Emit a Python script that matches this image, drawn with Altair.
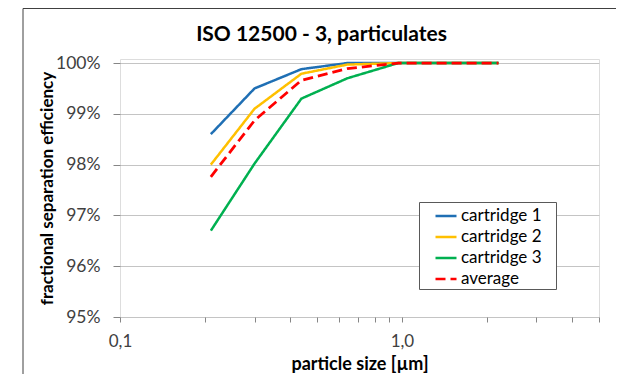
import altair as alt
import pandas as pd

# ---- data ----
sizes = [0.21, 0.3, 0.44, 0.64, 0.97, 2.2]          # particle size [µm]
cartridge_1 = [98.60, 99.50, 99.88, 100.0, 100.0, 100.0]
cartridge_2 = [98.00, 99.10, 99.79, 99.97, 100.0, 100.0]
cartridge_3 = [96.70, 98.02, 99.30, 99.70, 100.0, 100.0]
average = [97.76, 98.87, 99.66, 99.89, 100.0, 100.0]

series_names = ["cartridge 1", "cartridge 2", "cartridge 3", "average"]
series_colors = ["#1f6fb4", "#ffc000", "#00b050", "#ff0000"]
series_dashes = [[1, 0], [1, 0], [1, 0], [10, 5]]

x_tick_values = [0.1, 0.2, 0.3, 0.4, 0.5, 0.6, 0.7, 0.8, 0.9, 1, 2, 3, 4, 5]
y_tick_values = [0.95, 0.96, 0.97, 0.98, 0.99, 1.0]

rows = []
for name, vals in zip(series_names, [cartridge_1, cartridge_2, cartridge_3, average]):
    for i, (s, v) in enumerate(zip(sizes, vals)):
        rows.append({"series": name, "size": s, "eff": v / 100.0, "idx": i})
df = pd.DataFrame(rows)

W, H = 479, 258
FONT = "Lato"

legend = alt.Legend(
    title=None, orient="none", legendX=299, legendY=143,
    fillColor="white", strokeColor="#595959", padding=2,
    symbolType="stroke", symbolSize=441, symbolStrokeWidth=2.5,
    symbolOffset=13, labelOffset=3, labelFont=FONT, labelFontSize=17,
    labelColor="#000000", rowPadding=1,
    labelExpr="datum.label + '\u2800'",
)

color = alt.Color("series:N", scale=alt.Scale(domain=series_names, range=series_colors), legend=legend)
dash = alt.StrokeDash("series:N", scale=alt.Scale(domain=series_names, range=series_dashes), legend=legend)

x_enc = alt.X(
    "size:Q",
    scale=alt.Scale(type="log", domain=[0.1, 5], nice=False),
    axis=alt.Axis(
        values=x_tick_values,
        labelExpr="datum.value == 0.1 ? '0,1' : (datum.value == 1 ? '1,0' : '')",
        title="particle size [µm]", grid=False, domain=False,
        ticks=True, tickSize=5, tickColor="#868686",
        labelFont=FONT, labelFontSize=17, labelColor="#404040", labelPadding=11,
        labelFlush=False, labelOverlap=False,
        titleFont=FONT, titleFontSize=18, titleFontWeight="bold", titleColor="#000000",
        titlePadding=6,
    ),
)
y_enc = alt.Y(
    "eff:Q",
    scale=alt.Scale(domain=[0.95, 1.0008], nice=False, zero=False),
    axis=alt.Axis(
        values=y_tick_values, format=".0%",
        title="fractional separation efficiency", grid=True, gridColor="#c4c4c4",
        domain=False, ticks=True, tickSize=7, tickColor="#868686",
        labelFont=FONT, labelFontSize=17.5, labelColor="#404040", labelPadding=13,
        titleFont=FONT, titleFontSize=17, titleFontWeight="bold", titleColor="#000000",
        titlePadding=-1,
    ),
)

base = alt.Chart(df)
cartridges = base.transform_filter("datum.series != 'average'").mark_line(strokeWidth=2.5).encode(
    x=x_enc, y=y_enc, color=color, strokeDash=dash, order="idx:Q"
)
avg_line = base.transform_filter("datum.series == 'average'").mark_line(strokeWidth=2.8).encode(
    x=x_enc, y=y_enc, color=color, strokeDash=dash, order="idx:Q"
)

frame = alt.Chart(pd.DataFrame({"a": [0]})).mark_rect(
    filled=False, stroke="#404040", strokeWidth=1
).encode(
    x=alt.value(-97), x2=alt.value(W + 20), y=alt.value(-50.5), y2=alt.value(H + 80)
)

chart = alt.layer(frame, cartridges, avg_line).properties(
    width=W, height=H,
    title=alt.TitleParams(
        "ISO 12500 - 3, particulates", font=FONT, fontSize=21, fontWeight="bold",
        color="#000000", anchor="middle", dx=-38, offset=-37,
    ),
    autosize=alt.AutoSizeParams(type="none"),
    padding={"left": 112, "top": 51, "right": 17, "bottom": 57},
).configure_view(stroke="#868686", strokeWidth=1).configure(background="white")

chart.save("out.html", embed_options={"renderer": "svg", "actions": False})
